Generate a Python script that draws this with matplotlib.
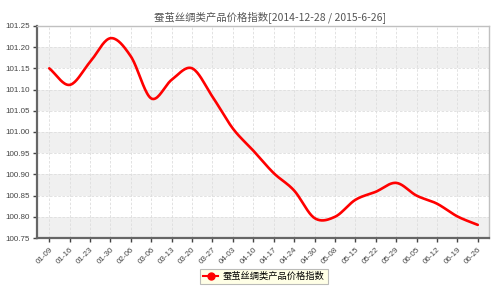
import numpy as np
import matplotlib.pyplot as plt
from matplotlib.lines import Line2D

plt.rcParams['font.family'] = ['Liberation Sans', 'Noto Sans CJK SC', 'DejaVu Sans']

dates = ['01-09', '01-16', '01-23', '01-30', '02-06', '03-06', '03-13', '03-20',
         '03-27', '04-03', '04-10', '04-17', '04-24', '04-30', '05-08', '05-15',
         '05-22', '05-29', '06-05', '06-12', '06-19', '06-26']
index = [101.150, 101.111, 101.165, 101.221, 101.178, 101.079, 101.123, 101.150,
         101.083, 101.008, 100.956, 100.903, 100.862, 100.797, 100.800, 100.840,
         100.859, 100.880, 100.850, 100.831, 100.801, 100.781]
title = '蚕茧丝绸类产品价格指数[2014-12-28 / 2015-6-26]'
series_name = '蚕茧丝绸类产品价格指数'


def smooth(x, y, n=20):
    # catmull-rom through the points, only for drawing
    x = np.asarray(x, float)
    y = np.asarray(y, float)
    px = np.concatenate([[2 * x[0] - x[1]], x, [2 * x[-1] - x[-2]]])
    py = np.concatenate([[2 * y[0] - y[1]], y, [2 * y[-1] - y[-2]]])
    xs, ys = [], []
    t = np.linspace(0, 1, n, endpoint=False)
    for i in range(1, len(px) - 2):
        for p, out in ((px, xs), (py, ys)):
            p0, p1, p2, p3 = p[i - 1], p[i], p[i + 1], p[i + 2]
            out.extend(0.5 * (2 * p1 + (-p0 + p2) * t
                              + (2 * p0 - 5 * p1 + 4 * p2 - p3) * t ** 2
                              + (-p0 + 3 * p1 - 3 * p2 + p3) * t ** 3))
    xs.append(x[-1])
    ys.append(y[-1])
    return np.array(xs), np.array(ys)


fig = plt.figure(figsize=(5, 2.91), dpi=100)
ax = fig.add_axes([0.074, 0.182, 0.904, 0.729])

yticks = np.arange(100.75, 101.2501, 0.05)
for i in range(len(yticks) - 1):
    if i % 2 == 0:
        ax.axhspan(yticks[i], yticks[i + 1], color='#f0f0f0', zorder=0, lw=0)

x = np.arange(len(dates))
sx, sy = smooth(x, index)
ax.plot(sx, sy, color='#ff0000', lw=1.9, zorder=3, solid_capstyle='round')

ax.set_xlim(-0.6, len(dates) - 0.45)
ax.set_ylim(100.75, 101.25)
ax.set_yticks(yticks)
ax.set_yticklabels(['%.2f' % v for v in yticks])
ax.set_xticks(x)
ax.set_xticklabels(dates, rotation=45, ha='right', va='top', rotation_mode='anchor')
ax.tick_params(axis='both', labelsize=5.8, colors='#444444', length=3, width=1)
ax.tick_params(axis='x', pad=3)
ax.tick_params(axis='y', pad=2)

ax.grid(True, color='#dddddd', lw=0.6, ls=(0, (3, 2)), zorder=1)
ax.set_axisbelow(True)

for s in ['left', 'bottom']:
    ax.spines[s].set_color('#666666')
    ax.spines[s].set_linewidth(1.6)
for s in ['top', 'right']:
    ax.spines[s].set_color('#c0c0c0')
    ax.spines[s].set_linewidth(1.0)

fig.text(0.54, 0.94, title, ha='center', va='center', fontsize=7.5, color='#555555',
         family=['Noto Sans CJK SC', 'DejaVu Sans'])

handle = Line2D([], [], color='#ff0000', lw=1.5, marker='o', markersize=5)
leg = fig.legend([handle], [series_name], loc='center', bbox_to_anchor=(0.528, 0.05),
                 fontsize=6.7, frameon=True, fancybox=False, handlelength=1.6,
                 handletextpad=0.5, borderpad=0.35,
                 prop={'family': ['Noto Sans CJK SC', 'DejaVu Sans'], 'size': 6.7})
leg.get_frame().set_facecolor('#ffffe0')
leg.get_frame().set_edgecolor('#aaaaaa')
leg.get_frame().set_linewidth(0.8)

fig.savefig('out.png', dpi=100)
